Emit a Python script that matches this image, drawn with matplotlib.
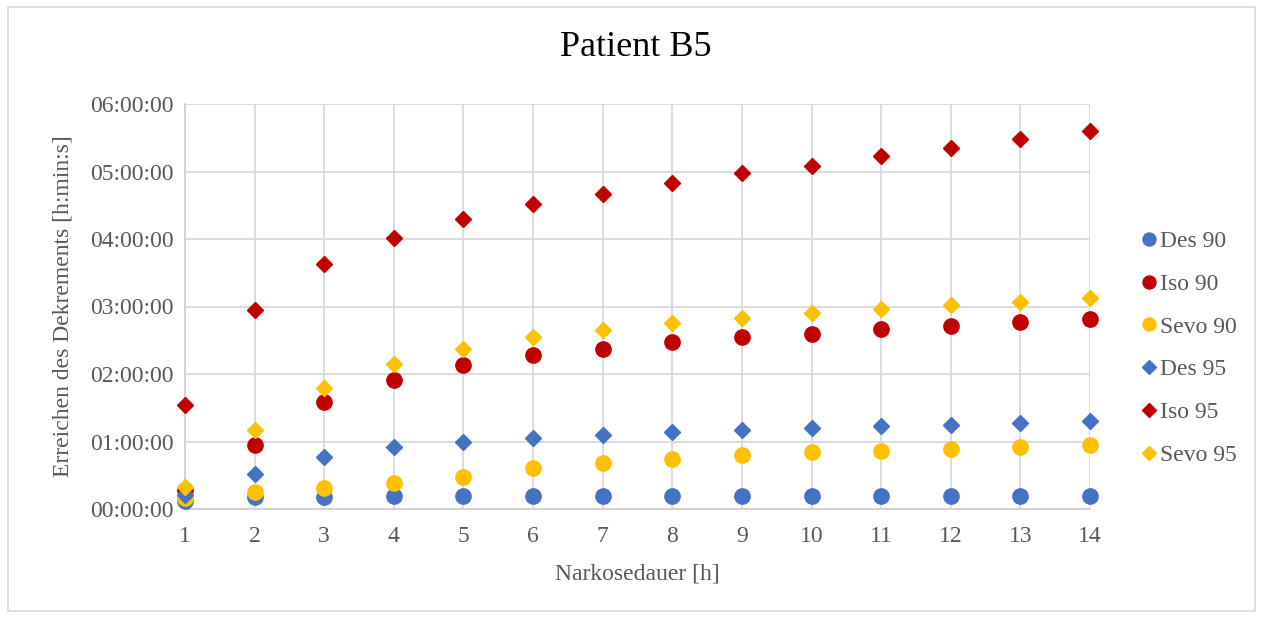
import matplotlib.pyplot as plt
from matplotlib.patches import Rectangle
from matplotlib.ticker import FuncFormatter, MultipleLocator

plt.rcParams['font.family'] = ['Liberation Serif', 'DejaVu Serif']

# Narkosedauer [h]
stunden = [1, 2, 3, 4, 5, 6, 7, 8, 9, 10, 11, 12, 13, 14]

# Erreichen des Dekrements, in Minuten
des_90 = [7, 10.4, 10.4, 11.3, 11.6, 11.6, 11.8, 11.9, 11.9, 11.9, 11.9, 12, 12, 12]
iso_90 = [17, 57, 94.7, 114.3, 127.7, 136.6, 142.6, 148.2, 153, 156, 160.2, 162.5, 166, 168.7]
sevo_90 = [10, 15.4, 18.4, 22.9, 28.8, 36.3, 40.7, 44.6, 47.9, 50.5, 52, 53.7, 55.3, 56.8]
des_95 = [12.5, 31.2, 46.6, 55.5, 60, 63, 66, 68.6, 70.1, 72.2, 73.9, 75.1, 76.6, 77.8]
iso_95 = [92.7, 176.5, 217.7, 240.9, 258.2, 270.7, 280.1, 289.7, 298.6, 305.1, 314, 320.6, 329.2, 336.3]
sevo_95 = [19.6, 69.8, 107.2, 129, 142.6, 153.3, 159.5, 165.5, 170.2, 174.4, 177.4, 181.2, 183.9, 187.8]

blau = '#4472C4'
rot = '#C00000'
gelb = '#FFC000'
grau = '#595959'

serien = [
    ('Des 90', des_90, blau, 'o'),
    ('Iso 90', iso_90, rot, 'o'),
    ('Sevo 90', sevo_90, gelb, 'o'),
    ('Des 95', des_95, blau, 'D'),
    ('Iso 95', iso_95, rot, 'D'),
    ('Sevo 95', sevo_95, gelb, 'D'),
]

fig = plt.figure(figsize=(12.62, 6.17), dpi=100)
ax = fig.add_axes([185 / 1262, 1 - 509 / 617, 905 / 1262, 405 / 617])

for name, werte, farbe, marker in serien:
    ms = 11 if marker == 'o' else 8
    ax.plot(stunden, [w / 60 for w in werte], linestyle='none', marker=marker,
            markersize=ms, color=farbe, label=name, zorder=3, clip_on=False)


def hms(x, pos):
    sek = int(round(x * 3600))
    return '%02d:%02d:%02d' % (sek // 3600, (sek % 3600) // 60, sek % 60)


ax.set_xlim(1, 14)
ax.set_ylim(0, 6)
ax.xaxis.set_major_locator(MultipleLocator(1))
ax.yaxis.set_major_locator(MultipleLocator(1))
ax.yaxis.set_major_formatter(FuncFormatter(hms))
ax.grid(True, color='#d9d9d9', linewidth=1.3)
ax.set_axisbelow(True)
for s in ['top', 'right']:
    ax.spines[s].set_visible(False)
for s in ['left', 'bottom']:
    ax.spines[s].set_color('#d0d0d0')
    ax.spines[s].set_linewidth(1.3)
ax.tick_params(length=0, labelsize=17, labelcolor=grau, pad=12)
ax.tick_params(axis='y', pad=8)

ax.set_xlabel('Narkosedauer [h]', fontsize=17, color=grau, labelpad=12)
ax.set_ylabel('Erreichen des Dekrements [h:min:s]', fontsize=17, color=grau, labelpad=12)
fig.text(0.504, 1 - 48 / 617, 'Patient B5', ha='center', va='center', fontsize=26, color='black')

leg = ax.legend(loc='center left', bbox_to_anchor=(1.039, 0.397), frameon=False,
                fontsize=17, labelcolor=grau, handletextpad=-0.15, labelspacing=0.9,
                handlelength=1.2, borderaxespad=0, markerscale=0.85)

fig.patches.append(Rectangle((8 / 1262, 6 / 617), 1247 / 1262, 604 / 617,
                             transform=fig.transFigure, fill=False,
                             edgecolor='#d9d9d9', linewidth=1.2))

fig.savefig('out.png', dpi=100)
